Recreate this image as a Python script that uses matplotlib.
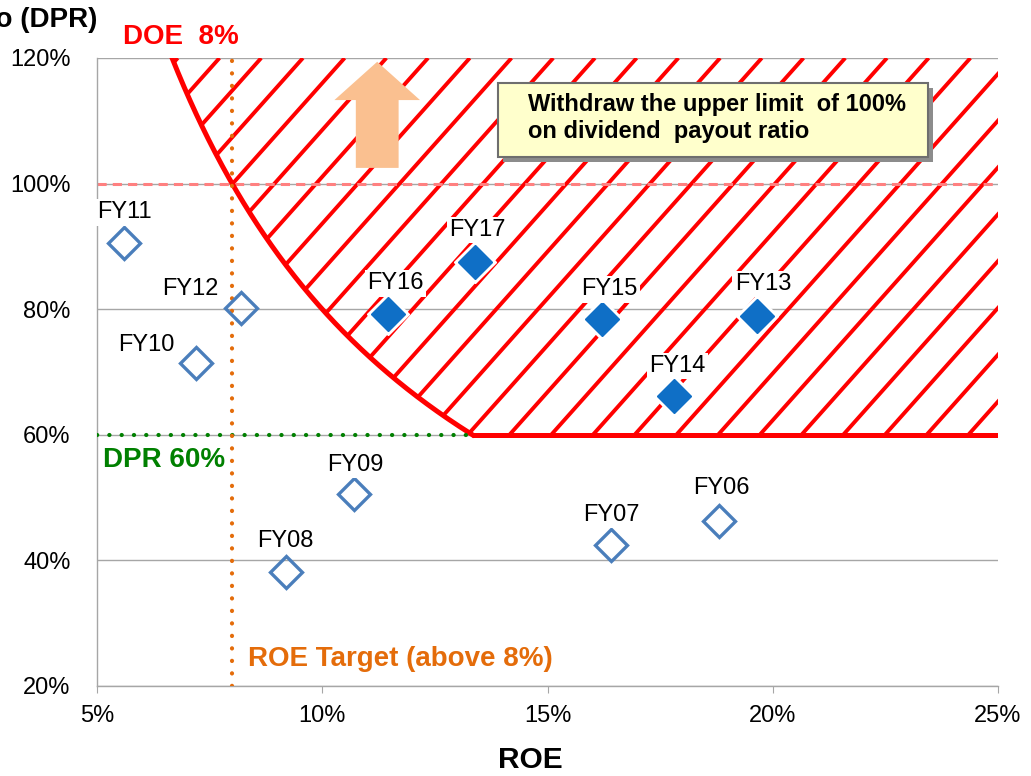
import numpy as np
import matplotlib
matplotlib.use('Agg')
import matplotlib.pyplot as plt
from matplotlib.patches import Polygon, Rectangle, FancyArrow
from matplotlib.ticker import FuncFormatter

plt.rcParams['font.family'] = ['Liberation Sans', 'DejaVu Sans']

# data (ROE %, DPR %)
past_labels = ['FY06', 'FY07', 'FY08', 'FY09', 'FY10', 'FY11', 'FY12']
past_roe = [18.8, 16.4, 9.2, 10.7, 7.2, 5.6, 8.2]
past_dpr = [46.3, 42.5, 38.2, 50.6, 71.4, 90.5, 80.2]

new_labels = ['FY13', 'FY14', 'FY15', 'FY16', 'FY17']
new_roe = [19.65, 17.8, 16.2, 11.45, 13.4]
new_dpr = [78.9, 66.2, 78.4, 79.2, 87.5]

# label offsets in pixels
past_offsets = [(3, 33), (1, 30), (-1, 31), (2, 29), (-50, 18), (0, 31), (-51, 19)]
new_offsets = [(6, 32), (4, 30), (8, 30), (8, 31), (2, 32)]

DOE_TARGET = 8      # ROE x DPR
ROE_TARGET = 8
DPR_FLOOR = 60
DPR_OLD_CAP = 100

x_ticks = [5, 10, 15, 20, 25]
y_ticks = [20, 40, 60, 80, 100, 120]

fig = plt.figure(figsize=(10.31, 7.76), dpi=100)
ax = fig.add_axes([97/1031, 90/776, 901/1031, 628/776])
ax.set_xlim(5, 25)
ax.set_ylim(20, 120)

# grid / spines
ax.set_yticks(y_ticks)
ax.set_xticks(x_ticks)
ax.set_axisbelow(True)
ax.grid(axis='y', color='#A6A6A6', lw=1)
for s in ['top', 'right']:
    ax.spines[s].set_visible(False)
for s in ['left', 'bottom']:
    ax.spines[s].set_color('#A6A6A6')
    ax.spines[s].set_linewidth(1)
pct = FuncFormatter(lambda v, p: f'{v:.0f}%')
ax.xaxis.set_major_formatter(pct)
ax.yaxis.set_major_formatter(pct)
ax.tick_params(axis='x', length=5, color='#A6A6A6', labelsize=17, pad=9)
ax.tick_params(axis='y', length=0, labelsize=17, pad=19)

# DOE region: DPR >= DOE/ROE and DPR >= floor
roe_curve = np.linspace(DOE_TARGET * 100 / 120, DOE_TARGET * 100 / DPR_FLOOR, 300)
dpr_curve = DOE_TARGET * 100 / roe_curve
poly = np.column_stack([np.r_[roe_curve, 25, 25], np.r_[dpr_curve, DPR_FLOOR, 120]])
region = Polygon(poly, closed=True, facecolor='none', edgecolor='none')
ax.add_patch(region)

# hatch lines
slope = 8.05
spacing = 0.926
anchor = 21.27
for k in range(-40, 10):
    x0 = anchor + k * spacing
    xs = [x0 + (20 - 80) / slope, x0 + (120 - 80) / slope]
    ln, = ax.plot(xs, [20, 120], color='#FF0000', lw=2.8, zorder=2,
                  solid_capstyle='butt')
    ln.set_clip_path(region)

# boundary
ax.plot(roe_curve, dpr_curve, color='#FF0000', lw=3.6, zorder=3)
ax.plot([DOE_TARGET * 100 / DPR_FLOOR, 25], [DPR_FLOOR, DPR_FLOOR],
        color='#FF0000', lw=3.6, zorder=3, solid_capstyle='butt')

# reference lines
ax.plot([5, 25], [DPR_OLD_CAP, DPR_OLD_CAP], color='#FF8080', lw=2.2,
        ls=(0, (3, 2)), zorder=2.5)
ax.plot([5, DOE_TARGET * 100 / DPR_FLOOR], [DPR_FLOOR, DPR_FLOOR], color='#008000',
        lw=3, ls=(0, (0.05, 2.9)), dash_capstyle='round', zorder=3)
ax.plot([ROE_TARGET, ROE_TARGET], [20, 120], color='#E46C0A',
        lw=3, ls=(0, (0.05, 2.95)), dash_capstyle='round', zorder=3)

# arrow
arrow = FancyArrow(11.22, 102.5, 0, 16.9, width=0.95, head_width=1.9,
                   head_length=6.1, length_includes_head=True,
                   color='#FAC090', lw=0, zorder=4)
ax.add_patch(arrow)

# points
ax.plot(new_roe, new_dpr, 'D', ms=21, color='white', zorder=3.5)
ax.plot(new_roe, new_dpr, 'D', ms=17.5, color='#0F6FC6', mec='#0F6FC6', zorder=5)
ax.plot(past_roe, past_dpr, 'D', ms=16, mfc='none', mec='#4A7EBB', mew=2.4, zorder=5)

for lab, x, y, off in zip(past_labels + new_labels, past_roe + new_roe,
                          past_dpr + new_dpr, past_offsets + new_offsets):
    ax.annotate(lab, (x, y), xytext=off, textcoords='offset pixels',
                ha='center', va='center', fontsize=17, zorder=6,
                bbox=dict(boxstyle='square,pad=0.1', fc='white', ec='none'))

# note box
bx0, by0 = (498 - 97) / 901, (686 - 157) / 628
bw, bh = 430 / 901, 74 / 628
ax.add_patch(Rectangle((bx0 + 5 / 901, by0 - 5 / 628), bw, bh, transform=ax.transAxes,
                       fc='#8C8C8C', ec='none', zorder=6))
ax.add_patch(Rectangle((bx0, by0), bw, bh, transform=ax.transAxes,
                       fc='#FFFFCC', ec='#6E6E6E', lw=1.5, zorder=7))
ax.text((528 - 97) / 901, (686 - 118) / 628,
        'Withdraw the upper limit  of 100%\non dividend  payout ratio',
        transform=ax.transAxes, ha='left', va='center', fontsize=17,
        fontweight='bold', linespacing=1.2, zorder=8)

# annotations
ax.text((123 - 97) / 901, (686 - 37) / 628, 'DOE  8%', transform=ax.transAxes,
        color='#FF0000', fontsize=20, fontweight='bold', ha='left', va='center',
        clip_on=False)
ax.text((103 - 97) / 901, (686 - 460) / 628, 'DPR 60%', transform=ax.transAxes,
        color='#008000', fontsize=20, fontweight='bold', ha='left', va='center',
        zorder=6)
ax.text((248 - 97) / 901, (686 - 659) / 628, 'ROE Target (above 8%)',
        transform=ax.transAxes, color='#E46C0A', fontsize=20, fontweight='bold',
        ha='left', va='center', zorder=6)

ax.set_xlabel('ROE', fontsize=21.5, fontweight='bold')
ax.xaxis.set_label_coords((530 - 97) / 901, (686 - 746) / 628)
fig.text(97 / 1031, 1 - 20 / 776, 'Dividend Payout Ratio (DPR)', ha='right',
         va='center', fontsize=20, fontweight='bold')

fig.savefig('out.png', dpi=100)
